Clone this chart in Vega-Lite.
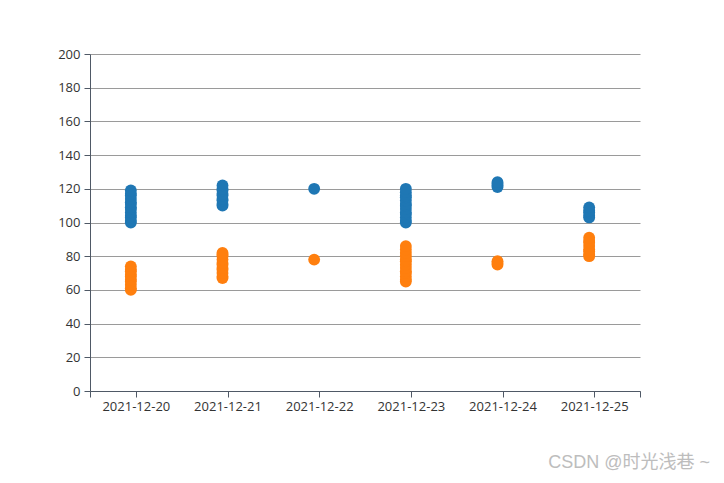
{
  "$schema": "https://vega.github.io/schema/vega-lite/v6.json",
  "width": 550,
  "height": 337,
  "autosize": {"type": "none"},
  "padding": {"left": 90, "top": 54, "right": 84, "bottom": 92},
  "background": "white",
  "config": {"view": {"stroke": null}, "font": "Open Sans"},
  "title": {
    "text": "CSDN @时光浅巷 ~",
    "orient": "bottom",
    "anchor": "end",
    "frame": "group",
    "color": "#bdbdbd",
    "fontSize": 18,
    "fontWeight": "normal",
    "font": "Liberation Sans, Noto Sans CJK SC",
    "dx": 70,
    "offset": 41
  },
  "datasets": {
    "temps": [
      {"date": "2021-12-20", "series": "max", "value": 100},
      {"date": "2021-12-20", "series": "max", "value": 101},
      {"date": "2021-12-20", "series": "max", "value": 103},
      {"date": "2021-12-20", "series": "max", "value": 104},
      {"date": "2021-12-20", "series": "max", "value": 106},
      {"date": "2021-12-20", "series": "max", "value": 108},
      {"date": "2021-12-20", "series": "max", "value": 109},
      {"date": "2021-12-20", "series": "max", "value": 111},
      {"date": "2021-12-20", "series": "max", "value": 112},
      {"date": "2021-12-20", "series": "max", "value": 114},
      {"date": "2021-12-20", "series": "max", "value": 116},
      {"date": "2021-12-20", "series": "max", "value": 117},
      {"date": "2021-12-20", "series": "max", "value": 119},
      {"date": "2021-12-20", "series": "min", "value": 60},
      {"date": "2021-12-20", "series": "min", "value": 61},
      {"date": "2021-12-20", "series": "min", "value": 63},
      {"date": "2021-12-20", "series": "min", "value": 65},
      {"date": "2021-12-20", "series": "min", "value": 66},
      {"date": "2021-12-20", "series": "min", "value": 68},
      {"date": "2021-12-20", "series": "min", "value": 69},
      {"date": "2021-12-20", "series": "min", "value": 71},
      {"date": "2021-12-20", "series": "min", "value": 72},
      {"date": "2021-12-20", "series": "min", "value": 74},
      {"date": "2021-12-21", "series": "max", "value": 110},
      {"date": "2021-12-21", "series": "max", "value": 111},
      {"date": "2021-12-21", "series": "max", "value": 113},
      {"date": "2021-12-21", "series": "max", "value": 114},
      {"date": "2021-12-21", "series": "max", "value": 116},
      {"date": "2021-12-21", "series": "max", "value": 117},
      {"date": "2021-12-21", "series": "max", "value": 119},
      {"date": "2021-12-21", "series": "max", "value": 120},
      {"date": "2021-12-21", "series": "max", "value": 122},
      {"date": "2021-12-21", "series": "min", "value": 67},
      {"date": "2021-12-21", "series": "min", "value": 68},
      {"date": "2021-12-21", "series": "min", "value": 70},
      {"date": "2021-12-21", "series": "min", "value": 72},
      {"date": "2021-12-21", "series": "min", "value": 73},
      {"date": "2021-12-21", "series": "min", "value": 75},
      {"date": "2021-12-21", "series": "min", "value": 76},
      {"date": "2021-12-21", "series": "min", "value": 78},
      {"date": "2021-12-21", "series": "min", "value": 80},
      {"date": "2021-12-21", "series": "min", "value": 81},
      {"date": "2021-12-21", "series": "min", "value": 82},
      {"date": "2021-12-22", "series": "max", "value": 120},
      {"date": "2021-12-22", "series": "min", "value": 78},
      {"date": "2021-12-23", "series": "max", "value": 100},
      {"date": "2021-12-23", "series": "max", "value": 101},
      {"date": "2021-12-23", "series": "max", "value": 103},
      {"date": "2021-12-23", "series": "max", "value": 105},
      {"date": "2021-12-23", "series": "max", "value": 106},
      {"date": "2021-12-23", "series": "max", "value": 108},
      {"date": "2021-12-23", "series": "max", "value": 110},
      {"date": "2021-12-23", "series": "max", "value": 111},
      {"date": "2021-12-23", "series": "max", "value": 113},
      {"date": "2021-12-23", "series": "max", "value": 115},
      {"date": "2021-12-23", "series": "max", "value": 116},
      {"date": "2021-12-23", "series": "max", "value": 118},
      {"date": "2021-12-23", "series": "max", "value": 120},
      {"date": "2021-12-23", "series": "min", "value": 65},
      {"date": "2021-12-23", "series": "min", "value": 66},
      {"date": "2021-12-23", "series": "min", "value": 68},
      {"date": "2021-12-23", "series": "min", "value": 70},
      {"date": "2021-12-23", "series": "min", "value": 71},
      {"date": "2021-12-23", "series": "min", "value": 73},
      {"date": "2021-12-23", "series": "min", "value": 75},
      {"date": "2021-12-23", "series": "min", "value": 77},
      {"date": "2021-12-23", "series": "min", "value": 78},
      {"date": "2021-12-23", "series": "min", "value": 80},
      {"date": "2021-12-23", "series": "min", "value": 82},
      {"date": "2021-12-23", "series": "min", "value": 84},
      {"date": "2021-12-23", "series": "min", "value": 86},
      {"date": "2021-12-24", "series": "max", "value": 121},
      {"date": "2021-12-24", "series": "max", "value": 122},
      {"date": "2021-12-24", "series": "max", "value": 123},
      {"date": "2021-12-24", "series": "max", "value": 124},
      {"date": "2021-12-24", "series": "min", "value": 75},
      {"date": "2021-12-24", "series": "min", "value": 76},
      {"date": "2021-12-24", "series": "min", "value": 77},
      {"date": "2021-12-25", "series": "max", "value": 103},
      {"date": "2021-12-25", "series": "max", "value": 104},
      {"date": "2021-12-25", "series": "max", "value": 106},
      {"date": "2021-12-25", "series": "max", "value": 107},
      {"date": "2021-12-25", "series": "max", "value": 109},
      {"date": "2021-12-25", "series": "min", "value": 80},
      {"date": "2021-12-25", "series": "min", "value": 81},
      {"date": "2021-12-25", "series": "min", "value": 83},
      {"date": "2021-12-25", "series": "min", "value": 84},
      {"date": "2021-12-25", "series": "min", "value": 86},
      {"date": "2021-12-25", "series": "min", "value": 88},
      {"date": "2021-12-25", "series": "min", "value": 89},
      {"date": "2021-12-25", "series": "min", "value": 91}
    ]
  },
  "data": {"name": "temps"},
  "mark": {"type": "circle", "size": 140, "opacity": 1, "xOffset": -5},
  "encoding": {
    "x": {
      "field": "date",
      "type": "temporal",
      "scale": {
        "type": "utc",
        "domain": [
          {"year": 2021, "month": 12, "date": 19, "hours": 12, "utc": true},
          {"year": 2021, "month": 12, "date": 25, "hours": 12, "utc": true}
        ]
      },
      "axis": {
        "title": null,
        "grid": false,
        "values": [
          {"year": 2021, "month": 12, "date": 19, "hours": 12, "utc": true},
          {"year": 2021, "month": 12, "date": 20, "utc": true},
          {"year": 2021, "month": 12, "date": 21, "utc": true},
          {"year": 2021, "month": 12, "date": 22, "utc": true},
          {"year": 2021, "month": 12, "date": 23, "utc": true},
          {"year": 2021, "month": 12, "date": 24, "utc": true},
          {"year": 2021, "month": 12, "date": 25, "utc": true},
          {"year": 2021, "month": 12, "date": 25, "hours": 12, "utc": true}
        ],
        "labelExpr": "utchours(datum.value) == 12 ? '' : utcFormat(datum.value, '%Y-%m-%d')",
        "labelFlush": false,
        "labelOverlap": false,
        "labelFontSize": 13,
        "labelColor": "#333333",
        "labelPadding": 3,
        "tickSize": 6,
        "tickColor": "#4f5966",
        "domainColor": "#4f5966"
      }
    },
    "y": {
      "field": "value",
      "type": "quantitative",
      "scale": {"domain": [0, 200], "nice": false, "zero": true},
      "axis": {
        "title": null,
        "values": [0, 20, 40, 60, 80, 100, 120, 140, 160, 180, 200],
        "grid": true,
        "gridColor": "#9a9a9a",
        "gridOpacity": 1,
        "labelFontSize": 13,
        "labelColor": "#333333",
        "labelPadding": 4,
        "tickSize": 6,
        "tickColor": "#4f5966",
        "domainColor": "#4f5966"
      }
    },
    "color": {
      "field": "series",
      "type": "nominal",
      "scale": {"domain": ["max", "min"], "range": ["#1f77b4", "#ff7f0e"]},
      "legend": null
    }
  }
}
